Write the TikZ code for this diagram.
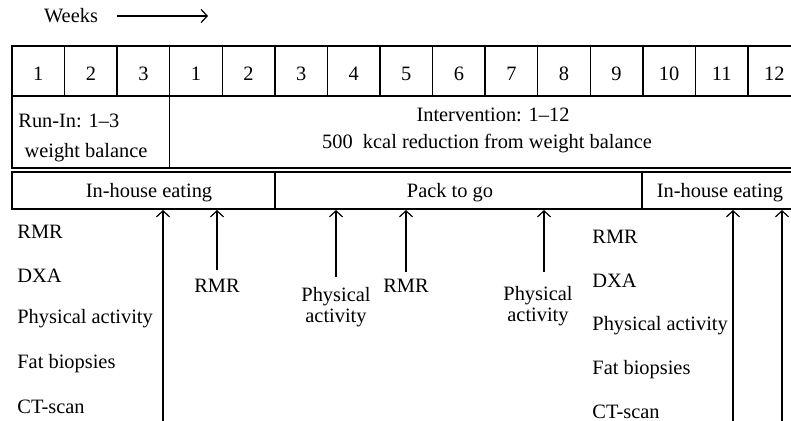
\documentclass[tikz,border=0pt]{standalone}
\usepackage{fontspec}
\setmainfont{Liberation Serif}
\usetikzlibrary{arrows.meta}
\begin{document}
\begin{tikzpicture}[x=0.5pt,y=-0.5pt,
  every node/.style={font=\fontsize{10.2}{10.5}\selectfont, inner sep=0pt},
  grid/.style={line width=0.7pt},
  arr/.style={line width=0.6pt,-{Straight Barb[length=3pt,width=6.5pt]}},
  lbl/.style={anchor=base west},
  cen/.style={anchor=base}]
\fill[white] (0,0) rectangle (791,420);
\useasboundingbox (0,0) rectangle (791,420);
\clip (0,0) rectangle (791,420);
% Weeks
\node[cen] (weeks) at (71,22) {Weeks};
\coordinate (wa0) at (117,16);
\coordinate (wa1) at (208,16);
\draw[arr] (wa0) -- (wa1);
% top row
\draw[grid] (12,46) rectangle (800,96);
\foreach \i in {1,...,14} \draw[grid] ({12+52.57*\i},46) -- ({12+52.57*\i},96);
\foreach \n [count=\i from 0] in {1,2,3,1,2,3,4,5,6,7,8,9,10,11,12}
  \node[cen] (w\i) at ({12+52.57*\i+26.3},80) {\n};
% second row
\draw[grid] (12,96) rectangle (800,168);
\draw[grid] (169.7,96) -- (169.7,168);
\node[lbl] (runin) at (18,127) {Run-In: 1--3};
\node[cen] (wb) at (86,157) {weight balance};
\node[cen] (interv) at (493,121) {Intervention: 1--12};
\node[cen] (kcal) at (487,148) {500\ \ kcal reduction from weight balance};
% third row
\draw[grid] (12,172) rectangle (800,209);
\draw[grid] (275,172) -- (275,209);
\draw[grid] (642,172) -- (642,209);
\node[cen] (ih1) at (149,197) {In-house eating};
\node[cen] (ptg) at (450,197) {Pack to go};
\node[cen] (ih2) at (720,197) {In-house eating};
% left list
\node[lbl] (l1) at (17,238) {RMR};
\node[lbl] (l2) at (17,282) {DXA};
\node[lbl] (l3) at (17,323) {Physical activity};
\node[lbl] (l4) at (17,368) {Fat biopsies};
\node[lbl] (l5) at (17,413) {CT-scan};
% right list
\node[lbl] (r1) at (592,243) {RMR};
\node[lbl] (r2) at (592,287) {DXA};
\node[lbl] (r3) at (592,330) {Physical activity};
\node[lbl] (r4) at (592,374) {Fat biopsies};
\node[lbl] (r5) at (592,418) {CT-scan};
% middle labels
\node[cen] (m1) at (217,292) {RMR};
\node[cen] (m2a) at (336,301) {Physical};
\node[cen] (m2b) at (336,322) {activity};
\node[cen] (m3) at (406,292) {RMR};
\node[cen] (m4a) at (538,300) {Physical};
\node[cen] (m4b) at (538,321) {activity};
% arrows
\coordinate (b1) at (163,425);  \coordinate (t1) at (163,210);
\coordinate (b2) at (217,270);  \coordinate (t2) at (217,210);
\coordinate (b3) at (336,277);  \coordinate (t3) at (336,210);
\coordinate (b4) at (406,272);  \coordinate (t4) at (406,210);
\coordinate (b5) at (544,272);  \coordinate (t5) at (544,210);
\coordinate (b6) at (733,425);  \coordinate (t6) at (733,210);
\coordinate (b7) at (782,425);  \coordinate (t7) at (782,210);
\foreach \k in {1,...,7} \draw[arr] (b\k) -- (t\k);
\end{tikzpicture}
\end{document}
